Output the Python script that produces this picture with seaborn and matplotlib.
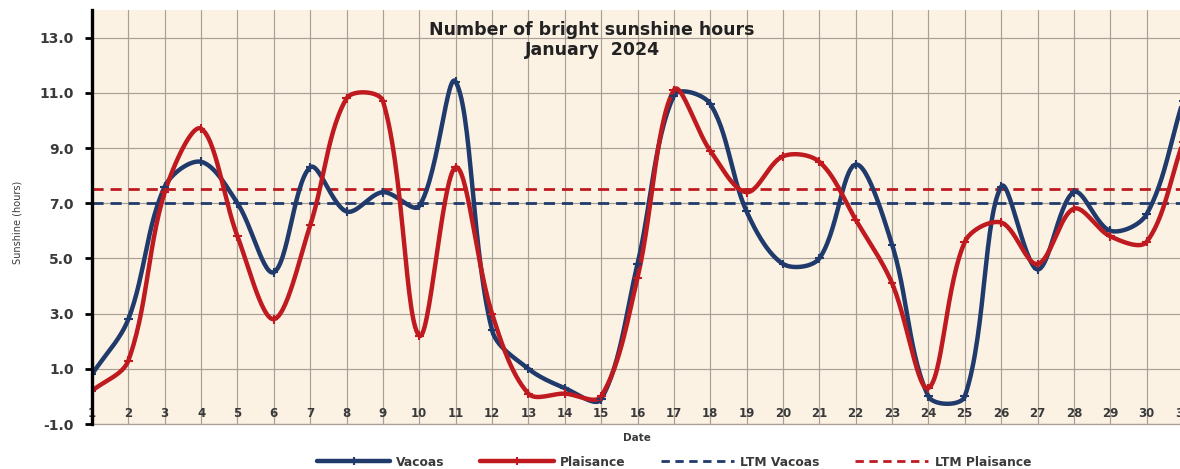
import numpy as np
import pandas as pd
import matplotlib
matplotlib.use("Agg")
import matplotlib.pyplot as plt
import seaborn as sns
from matplotlib.lines import Line2D

# ---- data ----
days = list(range(1, 32))
vacoas = [0.8, 2.8, 7.6, 8.5, 7.0, 4.5, 8.3, 6.7, 7.4, 6.9,
          11.4, 2.4, 1.0, 0.3, -0.1, 4.8, 10.9, 10.6, 6.7, 4.8,
          5.0, 8.4, 5.5, 0.0, 0.0, 7.6, 4.6, 7.4, 6.0, 6.6, 10.7]
plaisance = [0.2, 1.3, 7.4, 9.7, 5.8, 2.8, 6.2, 10.8, 10.7, 2.2,
             8.3, 3.0, 0.1, 0.1, 0.0, 4.3, 11.1, 8.9, 7.4, 8.7,
             8.5, 6.4, 4.1, 0.3, 5.6, 6.3, 4.8, 6.8, 5.8, 5.6, 9.2]
ltm_vacoas = 7.0
ltm_plaisance = 7.5
series_names = ["Vacoas", "Plaisance", "LTM Vacoas", "LTM Plaisance"]
y_ticks = [-1.0, 1.0, 3.0, 5.0, 7.0, 9.0, 11.0, 13.0]
title = "Number of bright sunshine hours\nJanuary  2024"

NAVY = "#1f3a6b"
RED = "#bf1a1f"
TXT = "#3a3a3a"

XMIN, XMAX, YMIN, YMAX = 1, 31, -1.0, 14.0
AX_W_PX, AX_H_PX = 1091, 414
SX = AX_W_PX / (XMAX - XMIN)   # px per x unit (for smoothing in screen space)
SY = AX_H_PX / (YMAX - YMIN)   # px per y unit


def smooth(xs, ys, n=30):
    """Excel-style smoothed line (length-weighted Bezier) for rendering only."""
    P = np.column_stack([np.asarray(xs, float) * SX, np.asarray(ys, float) * SY])
    Q = np.vstack([P[0], P, P[-1]])
    out = []
    t = np.linspace(0, 1, n, endpoint=False)[:, None]
    for i in range(1, len(Q) - 2):
        p0, p1, p2, p3 = Q[i - 1], Q[i], Q[i + 1], Q[i + 2]
        d01 = np.hypot(*(p1 - p0))
        d12 = np.hypot(*(p2 - p1))
        d23 = np.hypot(*(p3 - p2))
        f1 = d12 / (d01 + d12) / 3.0 if (d01 + d12) > 0 else 0
        f2 = d12 / (d12 + d23) / 3.0 if (d12 + d23) > 0 else 0
        c1 = p1 + (p2 - p0) * f1
        c2 = p2 - (p3 - p1) * f2
        seg = ((1 - t) ** 3) * p1 + 3 * ((1 - t) ** 2) * t * c1 + 3 * (1 - t) * t ** 2 * c2 + t ** 3 * p2
        out.append(seg)
    out.append(Q[-2][None, :])
    out = np.vstack(out)
    return out[:, 0] / SX, out[:, 1] / SY


sns.set_theme(style="white")
plt.rcParams["font.family"] = ["DejaVu Sans"]

fig = plt.figure(figsize=(11.8, 4.69), dpi=100)
fig.patch.set_facecolor("white")
ax = fig.add_axes([92 / 1180, 45 / 469, AX_W_PX / 1180, AX_H_PX / 469])
ax.set_facecolor("#fbf2e4")

frames = []
for name, vals in (("Vacoas", vacoas), ("Plaisance", plaisance)):
    sx, sy = smooth(days, vals)
    frames.append(pd.DataFrame({"Date": sx, "Sunshine": sy, "Station": name}))
curve = pd.concat(frames, ignore_index=True)
pal = {"Vacoas": NAVY, "Plaisance": RED}

sns.lineplot(data=curve, x="Date", y="Sunshine", hue="Station", palette=pal,
             sort=False, estimator=None, units="Station", linewidth=3.2,
             legend=False, ax=ax, zorder=4)

pts = pd.concat([pd.DataFrame({"Date": days, "Sunshine": vacoas, "Station": "Vacoas"}),
                 pd.DataFrame({"Date": days, "Sunshine": plaisance, "Station": "Plaisance"})])
sns.scatterplot(data=pts, x="Date", y="Sunshine", hue="Station", palette=pal,
                marker="+", s=40, linewidth=1.5, legend=False, ax=ax, zorder=5)

ax.axhline(ltm_vacoas, color=NAVY, lw=2.0, ls=(0, (4, 2.5)), zorder=3)
ax.axhline(ltm_plaisance, color=RED, lw=2.0, ls=(0, (4, 2.5)), zorder=3)

ax.set_xlim(XMIN, XMAX)
ax.set_ylim(YMIN, YMAX)
ax.set_xticks(days)
ax.set_xticklabels([str(d) for d in days])
ax.set_yticks(y_ticks)
ax.set_yticklabels([f"{v:.1f}" for v in y_ticks])
ax.grid(True, color="#a89f96", lw=0.85)
ax.set_axisbelow(True)

for s in ("top", "right"):
    ax.spines[s].set_visible(False)
ax.spines["bottom"].set_color("#a89f96")
ax.spines["bottom"].set_linewidth(0.9)
ax.spines["left"].set_color("black")
ax.spines["left"].set_linewidth(2.4)
ax.spines["left"].set_zorder(6)

ax.tick_params(axis="x", length=0, pad=-12, labelsize=8.5, labelcolor=TXT)
for lab in ax.get_xticklabels():
    lab.set_fontweight("bold")
ax.tick_params(axis="y", length=5, width=2, color="black", direction="out",
               labelsize=10, labelcolor=TXT, pad=8, left=True)
for lab in ax.get_yticklabels():
    lab.set_fontweight("bold")

ax.set_xlabel("")
ax.set_ylabel("")
fig.text(637 / 1180, 1 - 438 / 469, "Date", ha="center", va="center",
         fontsize=7.5, fontweight="bold", color=TXT)
fig.text(18 / 1180, 1 - 222 / 469, "Sunshine (hours)", ha="center", va="center",
         rotation=90, fontsize=7, color=TXT)
fig.text(592 / 1180, 1 - 40 / 469, title, ha="center", va="center",
         fontsize=12.5, fontweight="bold", color="#222222", linespacing=1.15)

handles = [Line2D([], [], color=NAVY, lw=3.2, marker="+", ms=6, mew=1.5),
           Line2D([], [], color=RED, lw=3.2, marker="+", ms=6, mew=1.5),
           Line2D([], [], color=NAVY, lw=2.0, ls=(0, (3, 2))),
           Line2D([], [], color=RED, lw=2.0, ls=(0, (3, 2)))]
leg = fig.legend(handles, series_names, loc="center", ncol=4,
                 bbox_to_anchor=(674 / 1180, 1 - 462 / 469), frameon=False,
                 handlelength=6.0, columnspacing=2.9, handletextpad=0.5,
                 prop={"size": 8.8, "weight": "bold"})
for t in leg.get_texts():
    t.set_color(TXT)

fig.savefig("out.png", dpi=100, facecolor="white")
